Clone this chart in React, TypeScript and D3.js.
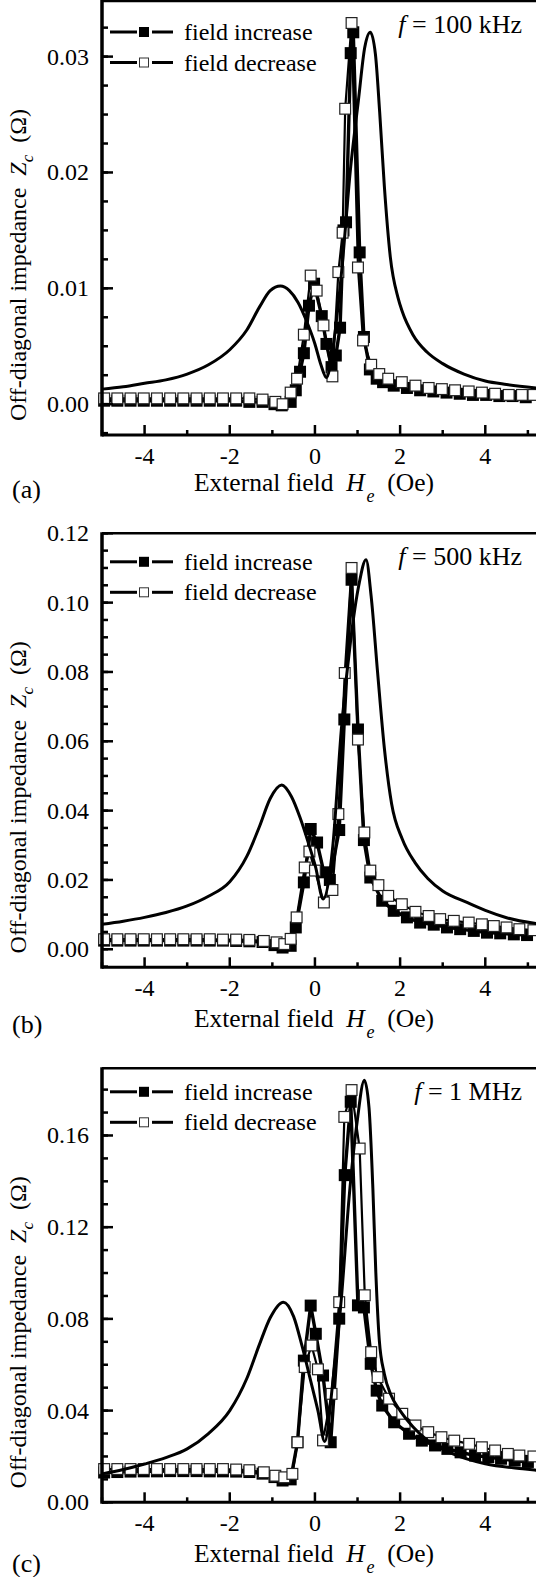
import React from "react";
import * as d3 from "d3";

type Pt = [number, number];

// x axis (shared by the three panels)
const xDomain: [number, number] = [-5, 5.2];
const xMajorTicks = [-4, -2, 0, 2, 4];
const xMinorTicks = [-5, -3, -1, 1, 3, 5];

// (a) f = 100 kHz
const incA: Pt[] = [
  [-4.95, 0.0003], [-4.64, 0.0003], [-4.33, 0.0003], [-4.02, 0.0003], [-3.71, 0.0003],
  [-3.4, 0.0003], [-3.09, 0.0003], [-2.78, 0.0003], [-2.47, 0.0003], [-2.16, 0.0003],
  [-1.85, 0.0003], [-1.54, 0.0002], [-1.23, 0.0002], [-0.95, 0.0], [-0.78, -0.0001],
  [-0.57, 0.0002], [-0.45, 0.0012], [-0.35, 0.0028], [-0.26, 0.0044], [-0.14, 0.0085],
  [-0.02, 0.0104], [0.16, 0.0076], [0.27, 0.0052], [0.39, 0.0032], [0.49, 0.0042],
  [0.59, 0.0066], [0.67, 0.015], [0.73, 0.0157], [0.84, 0.0303], [0.9, 0.0321],
  [1.05, 0.0131], [1.15, 0.0058], [1.29, 0.003], [1.45, 0.0022], [1.6, 0.0019],
  [1.85, 0.0016], [2.16, 0.0014], [2.47, 0.0012], [2.78, 0.0011], [3.09, 0.001],
  [3.4, 0.0009], [3.71, 0.0008], [4.02, 0.0008], [4.33, 0.0007], [4.64, 0.0007], [4.95, 0.0006],
];
const decA: Pt[] = [
  [-4.95, 0.0005], [-4.64, 0.0005], [-4.33, 0.0005], [-4.02, 0.0005], [-3.71, 0.0005],
  [-3.4, 0.0005], [-3.09, 0.0005], [-2.78, 0.0005], [-2.47, 0.0005], [-2.16, 0.0005],
  [-1.85, 0.0005], [-1.54, 0.0005], [-1.23, 0.0004], [-0.93, 0.0002], [-0.76, 0.0],
  [-0.57, 0.001], [-0.42, 0.0022], [-0.26, 0.006], [-0.1, 0.0111], [0.04, 0.0098],
  [0.2, 0.0068], [0.41, 0.0024], [0.55, 0.0114], [0.65, 0.0148], [0.71, 0.0255],
  [0.86, 0.0329], [1.01, 0.0118], [1.13, 0.0055], [1.32, 0.0034], [1.51, 0.0026],
  [1.72, 0.0022], [2.04, 0.0019], [2.36, 0.0016], [2.67, 0.0014], [2.98, 0.0013],
  [3.29, 0.0012], [3.61, 0.0011], [3.92, 0.001], [4.23, 0.0009], [4.55, 0.0008],
  [4.86, 0.0008], [5.13, 0.0008],
];
const theoryA: Pt[] = [
  [-5, 0.0013], [-4.5, 0.0015], [-4, 0.0018], [-3.5, 0.0021], [-3, 0.0026], [-2.5, 0.0034],
  [-2, 0.0047], [-1.6, 0.0064], [-1.3, 0.0084], [-1.05, 0.0098], [-0.81, 0.0102],
  [-0.6, 0.0098], [-0.4, 0.0088], [-0.2, 0.0072], [0, 0.0052], [0.14, 0.0034], [0.27, 0.0023],
  [0.42, 0.0048], [0.62, 0.0112], [0.84, 0.0205], [1.02, 0.0262], [1.17, 0.0308],
  [1.3, 0.0321], [1.42, 0.0302], [1.52, 0.0252], [1.63, 0.0188], [1.77, 0.0127],
  [1.95, 0.0092], [2.05, 0.008], [2.3, 0.006], [2.63, 0.0045], [3.0, 0.0035],
  [3.5, 0.0026], [4.0, 0.002], [4.5, 0.0017], [5.2, 0.0014],
];

// (b) f = 500 kHz
const incB: Pt[] = [
  [-4.95, 0.0025], [-4.64, 0.0025], [-4.33, 0.0025], [-4.02, 0.0025], [-3.71, 0.0025],
  [-3.4, 0.0025], [-3.09, 0.0025], [-2.78, 0.0025], [-2.47, 0.0025], [-2.16, 0.0025],
  [-1.85, 0.0024], [-1.54, 0.0023], [-1.23, 0.0021], [-0.95, 0.0012], [-0.76, 0.0005],
  [-0.57, 0.001], [-0.45, 0.0063], [-0.26, 0.0193], [-0.1, 0.0347], [0.05, 0.0308],
  [0.21, 0.0222], [0.35, 0.02], [0.57, 0.0344], [0.69, 0.0663], [0.86, 0.1066],
  [1.01, 0.0634], [1.15, 0.0315], [1.3, 0.0207], [1.58, 0.014], [1.85, 0.0111],
  [2.16, 0.0092], [2.47, 0.0077], [2.79, 0.0071], [3.1, 0.0063], [3.41, 0.0058],
  [3.73, 0.0053], [4.04, 0.0048], [4.35, 0.0046], [4.67, 0.0043], [4.98, 0.0041],
];
const decB: Pt[] = [
  [-4.95, 0.0029], [-4.64, 0.0029], [-4.33, 0.0029], [-4.02, 0.0029], [-3.71, 0.0029],
  [-3.4, 0.0029], [-3.09, 0.0029], [-2.78, 0.0029], [-2.47, 0.0029], [-2.16, 0.0028],
  [-1.85, 0.0028], [-1.54, 0.0027], [-1.2, 0.0024], [-0.9, 0.002], [-0.72, 0.0015],
  [-0.57, 0.003], [-0.43, 0.0092], [-0.24, 0.0236], [-0.13, 0.0282], [0.0, 0.0227],
  [0.21, 0.0135], [0.41, 0.0171], [0.55, 0.039], [0.7, 0.0797], [0.86, 0.11],
  [1.01, 0.0605], [1.16, 0.0337], [1.3, 0.0227], [1.49, 0.0185], [1.72, 0.0154],
  [2.04, 0.013], [2.36, 0.0108], [2.67, 0.0096], [2.94, 0.0087], [3.26, 0.0082],
  [3.61, 0.0077], [3.92, 0.0072], [4.2, 0.0067], [4.5, 0.0063], [4.8, 0.0058], [5.13, 0.0055],
];
const theoryB: Pt[] = [
  [-5, 0.0072], [-4.5, 0.0081], [-4, 0.0092], [-3.5, 0.0106], [-3, 0.0125], [-2.5, 0.0153],
  [-2, 0.0195], [-1.6, 0.0268], [-1.3, 0.0355], [-1.05, 0.0435], [-0.78, 0.0474],
  [-0.55, 0.044], [-0.35, 0.038], [-0.15, 0.0305], [0.02, 0.0235], [0.19, 0.0145],
  [0.42, 0.0298], [0.62, 0.0634], [0.84, 0.0893], [1.03, 0.105], [1.2, 0.1124],
  [1.32, 0.1018], [1.47, 0.08], [1.63, 0.058], [1.8, 0.042], [2.05, 0.0318], [2.35, 0.025],
  [2.65, 0.0204], [3.0, 0.0168], [3.57, 0.0135], [4.0, 0.0112], [4.5, 0.0091], [5.2, 0.0074],
];

// (c) f = 1 MHz
const incC: Pt[] = [
  [-4.95, 0.013], [-4.64, 0.0132], [-4.33, 0.0134], [-4.02, 0.0135], [-3.71, 0.0135],
  [-3.4, 0.0136], [-3.09, 0.0136], [-2.78, 0.0136], [-2.47, 0.0135], [-2.16, 0.0135],
  [-1.85, 0.0134], [-1.54, 0.0132], [-1.23, 0.0125], [-0.95, 0.011], [-0.76, 0.0095],
  [-0.57, 0.01], [-0.41, 0.0262], [-0.26, 0.0618], [-0.1, 0.0858], [0.02, 0.0735],
  [0.19, 0.0553], [0.37, 0.0262], [0.57, 0.0801], [0.7, 0.1427], [0.84, 0.1747],
  [1.01, 0.0859], [1.15, 0.085], [1.31, 0.0604], [1.45, 0.0487], [1.58, 0.0422],
  [1.86, 0.0349], [2.21, 0.0299], [2.51, 0.0269], [2.82, 0.0248], [3.11, 0.0233],
  [3.42, 0.0218], [3.76, 0.0204], [4.07, 0.0197], [4.37, 0.019], [4.69, 0.0182], [5.0, 0.0176],
];
const decC: Pt[] = [
  [-4.95, 0.0145], [-4.64, 0.0145], [-4.33, 0.0145], [-4.02, 0.0145], [-3.71, 0.0145],
  [-3.4, 0.0145], [-3.09, 0.0145], [-2.78, 0.0145], [-2.47, 0.0145], [-2.16, 0.0145],
  [-1.85, 0.0143], [-1.54, 0.014], [-1.2, 0.0131], [-0.93, 0.0116], [-0.72, 0.0109],
  [-0.53, 0.0124], [-0.41, 0.0262], [-0.24, 0.059], [-0.08, 0.0684], [0.07, 0.058],
  [0.19, 0.027], [0.39, 0.0473], [0.57, 0.0873], [0.69, 0.1681], [0.86, 0.1798],
  [1.05, 0.1543], [1.17, 0.0903], [1.32, 0.0655], [1.47, 0.0546], [1.74, 0.0452],
  [2.05, 0.0386], [2.36, 0.0335], [2.66, 0.0306], [2.97, 0.0284], [3.27, 0.0269],
  [3.62, 0.0255], [3.92, 0.024], [4.23, 0.0226], [4.53, 0.0211], [4.8, 0.0204], [5.13, 0.02],
];
const theoryC: Pt[] = [
  [-5, 0.0124], [-4.5, 0.0143], [-4, 0.0167], [-3.5, 0.0195], [-3, 0.0233], [-2.5, 0.03],
  [-2, 0.04], [-1.6, 0.054], [-1.3, 0.069], [-1.05, 0.0805], [-0.74, 0.0873],
  [-0.5, 0.081], [-0.3, 0.068], [-0.1, 0.053], [0.07, 0.04], [0.23, 0.0265],
  [0.42, 0.0524], [0.62, 0.0888], [0.8, 0.1325], [0.99, 0.1659], [1.16, 0.1841],
  [1.27, 0.172], [1.36, 0.137], [1.43, 0.1], [1.51, 0.071], [1.63, 0.056],
  [1.78, 0.047], [2.0, 0.04], [2.3, 0.033], [2.6, 0.0277], [3.24, 0.0211], [4.0, 0.0168],
  [4.88, 0.0146], [5.2, 0.014],
];

const yTicksA = [0, 0.01, 0.02, 0.03];
const yTicksB = [0, 0.02, 0.04, 0.06, 0.08, 0.1, 0.12];
const yTicksC = [0, 0.04, 0.08, 0.12, 0.16];

const legendLabels = ["field increase", "field decrease"];

const panels = [
  { label: "(a)", freq: "100 kHz", inc: incA, dec: decA, theory: theoryA, yTicks: yTicksA,
    minorStep: 0.0025, yDomain: [-0.00266, 0.0348], top: 1, legendDy: 31, titleDy: 56, labelY: 498 },
  { label: "(b)", freq: "500 kHz", inc: incB, dec: decB, theory: theoryB, yTicks: yTicksB,
    minorStep: 0.005, yDomain: [-0.0052, 0.12], top: 533.3, legendDy: 28.5, titleDy: 60, labelY: 1033 },
  { label: "(c)", freq: "1 MHz", inc: incC, dec: decC, theory: theoryC, yTicks: yTicksC,
    minorStep: 0.01, yDomain: [0, 0.1893], top: 1068.3, legendDy: 23.5, titleDy: 60, labelY: 1572 },
];

const W = 536;
const H = 1577;
const plotH = 434;
const left = 102;
const font = "'Times New Roman', 'Liberation Serif', Times, serif";
const fmt = d3.format(".2f");

function Panel({ p }: { p: (typeof panels)[number] }) {
  const x = d3.scaleLinear().domain(xDomain).range([left, 536.4]);
  const bottom = p.top + plotH;
  const y = d3.scaleLinear().domain(p.yDomain).range([bottom, p.top]);
  const seg = d3.line<Pt>().x((d) => x(d[0])).y((d) => y(d[1]));
  const smooth = d3
    .line<Pt>()
    .x((d) => x(d[0]))
    .y((d) => y(d[1]))
    .curve(d3.curveMonotoneX);

  const minor = d3
    .range(Math.ceil(p.yDomain[0] / p.minorStep), Math.floor(p.yDomain[1] / p.minorStep) + 1)
    .map((k) => k * p.minorStep);

  const inc = [...p.inc].sort((a, b) => a[0] - b[0]);
  const dec = [...p.dec].sort((a, b) => a[0] - b[0]);
  const ms = 12;
  const cy = (p.top + bottom) / 2 + 47;
  const lg1 = p.top + p.legendDy;
  const lg2 = lg1 + 30.5;

  return (
    <g style={{ fontFamily: font }} fill="#000">
      {/* data */}
      <path d={seg(inc) || ""} fill="none" stroke="#000" strokeWidth={3.4} />
      {inc.map((d, i) => (
        <rect key={"i" + i} x={x(d[0]) - ms / 2} y={y(d[1]) - ms / 2} width={ms} height={ms} fill="#000" />
      ))}
      <path d={seg(dec) || ""} fill="none" stroke="#000" strokeWidth={2.2} />
      {dec.map((d, i) => (
        <rect key={"d" + i} x={x(d[0]) - ms / 2 + 0.6} y={y(d[1]) - ms / 2 + 0.6} width={ms - 1.2} height={ms - 1.2}
          fill="#fff" stroke="#222" strokeWidth={1.2} />
      ))}
      <path d={smooth(p.theory) || ""} fill="none" stroke="#000" strokeWidth={3} />

      {/* frame */}
      <line x1={left} x2={W} y1={p.top} y2={p.top} stroke="#000" strokeWidth={2.5} />
      <line x1={left} x2={W} y1={bottom} y2={bottom} stroke="#000" strokeWidth={3} />
      <line x1={left} x2={left} y1={p.top - 1} y2={bottom + 1.5} stroke="#000" strokeWidth={3.5} />

      {/* y ticks */}
      {minor.map((v, i) => (
        <line key={"ym" + i} x1={left} x2={left + 6} y1={y(v)} y2={y(v)} stroke="#000" strokeWidth={2.5} />
      ))}
      {p.yTicks.map((v) => (
        <g key={"y" + v}>
          <line x1={left} x2={left + 11} y1={y(v)} y2={y(v)} stroke="#000" strokeWidth={2.5} />
          <text x={89} y={y(v) + 8} fontSize={24} textAnchor="end">{fmt(v)}</text>
        </g>
      ))}

      {/* x ticks */}
      {xMinorTicks.map((v) => (
        <line key={"xm" + v} x1={x(v)} x2={x(v)} y1={bottom} y2={bottom - 5} stroke="#000" strokeWidth={2.5} />
      ))}
      {xMajorTicks.map((v) => (
        <g key={"x" + v}>
          <line x1={x(v)} x2={x(v)} y1={bottom} y2={bottom - 10} stroke="#000" strokeWidth={2.5} />
          <text x={x(v)} y={bottom + 29} fontSize={24} textAnchor="middle">{String(v)}</text>
        </g>
      ))}

      {/* axis titles */}
      <text x={314} y={bottom + p.titleDy} fontSize={25.5} textAnchor="middle">
        {"External field\u00A0\u00A0"}
        <tspan fontStyle="italic">H</tspan>
        <tspan fontStyle="italic" fontSize={18} dy={11} dx={2}>e</tspan>
        <tspan dy={-11}>{"\u00A0\u00A0(Oe)"}</tspan>
      </text>
      <text transform={`translate(26,${cy}) rotate(-90)`} fontSize={24} textAnchor="middle">
        {"Off-diagonal impedance\u00A0\u00A0"}
        <tspan fontStyle="italic">Z</tspan>
        <tspan fontStyle="italic" fontSize={17} dy={7}>c</tspan>
        <tspan dy={-7}>{"\u00A0\u00A0(\u03A9)"}</tspan>
      </text>
      <text x={12} y={p.labelY} fontSize={26}>{p.label}</text>

      {/* legend */}
      <line x1={110} x2={137} y1={lg1} y2={lg1} stroke="#000" strokeWidth={3} />
      <line x1={152} x2={173} y1={lg1} y2={lg1} stroke="#000" strokeWidth={3} />
      <rect x={139} y={lg1 - 5} width={10} height={10} fill="#000" />
      <text x={184} y={lg1 + 8} fontSize={24}>{legendLabels[0]}</text>
      <line x1={110} x2={137} y1={lg2} y2={lg2} stroke="#000" strokeWidth={3} />
      <line x1={152} x2={173} y1={lg2} y2={lg2} stroke="#000" strokeWidth={3} />
      <rect x={139.5} y={lg2 - 4.5} width={9} height={9} fill="#fff" stroke="#333" strokeWidth={1} />
      <text x={184} y={lg2 + 8} fontSize={24}>{legendLabels[1]}</text>

      <text x={522} y={p.top + 32} fontSize={26} textAnchor="end">
        <tspan fontStyle="italic">f</tspan>
        {"\u00A0= " + p.freq}
      </text>
    </g>
  );
}

export default function App() {
  return (
    <div style={{ position: "absolute", left: 0, top: 0 }}>
      <svg width={W} height={H} viewBox={`0 0 ${W} ${H}`} style={{ display: "block", background: "#fff" }}>
        <rect width={W} height={H} fill="#fff" />
        {panels.map((p) => (
          <Panel key={p.label} p={p} />
        ))}
      </svg>
    </div>
  );
}
